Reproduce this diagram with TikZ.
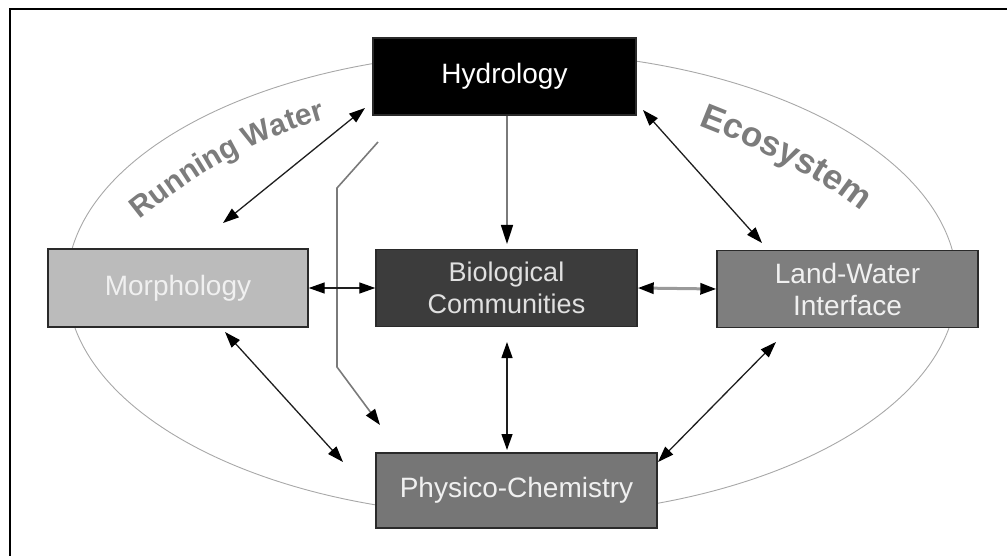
\documentclass[tikz,border=0pt]{standalone}
\usepackage{fontspec}
\setmainfont{Liberation Sans}
\usetikzlibrary{arrows.meta,decorations.text,calc}
\definecolor{boxline}{HTML}{2A2A2A}
\definecolor{ellgray}{HTML}{A8A8A8}
\definecolor{labgray}{HTML}{7C7C7C}
\definecolor{morfill}{HTML}{BBBBBB}
\definecolor{biofill}{HTML}{3C3C3C}
\definecolor{lwifill}{HTML}{7E7E7E}
\definecolor{phyfill}{HTML}{767676}
\definecolor{linegray}{HTML}{7A7A7A}
\definecolor{lightline}{HTML}{9A9A9A}
\definecolor{arrowdark}{HTML}{1E1E1E}
\definecolor{boxtext}{HTML}{F0F0F0}
\begin{document}
\begin{tikzpicture}[x=1pt,y=-1pt,
  box/.style={draw=boxline, line width=1.4pt, inner sep=0pt, align=center,
    text=boxtext, font=\fontsize{28}{32}\selectfont},
  tipA/.tip={Triangle[length=16pt,width=11pt,color=black]},
  dbl/.style={{tipA}-{tipA}, line width=1.3pt, draw=arrowdark},
  sgl/.style={-{tipA}, line width=1.6pt, draw=linegray},
  curved/.style={decorate, decoration={text along path, text align=center, text={#1}}},
]
\useasboundingbox (0,0) rectangle (1007,556);
% frame (top and left edges visible)
\draw[line width=2.2pt] (10,556) -- (10,9) -- (1007,9);
% ecosystem ellipse
\draw[ellgray, line width=0.9pt] (512,284) ellipse [x radius=445pt, y radius=232pt];
% curved labels
\path[curved={|\fontsize{30}{30}\selectfont\bfseries\color{labgray}|Running Water}]
  (134,224) .. controls (200,170) and (260,137) .. (332,117);
\path[curved={|\fontsize{35}{35}\selectfont\bfseries\color{labgray}|Ecosystem}]
  (688,121) .. controls (750,145) and (820,175) .. (870,219);
% boxes
\node[box, fill=black, text=white, minimum width=263pt, minimum height=77pt] (hyd) at (504.5,76.5) {Hydrology};
\node[box, fill=morfill, minimum width=260pt, minimum height=78pt] (mor) at (178,288) {Morphology};
\node[box, fill=biofill, text=white!88!black, minimum width=261pt, minimum height=77pt, font=\fontsize{27}{32}\selectfont] (bio) at (506.5,288) {Biological\\Communities};
\node[box, fill=lwifill, minimum width=261pt, minimum height=77pt] (lwi) at (847.5,289) {Land-Water\\Interface};
\node[box, fill=phyfill, minimum width=281pt, minimum height=75pt] (phy) at (516.5,490.5) {Physico-Chemistry};
% free end points
\coordinate (hm1) at (365,108);
\coordinate (hm2) at (223,223);
\coordinate (hl1) at (643,110);
\coordinate (hl2) at (762,243);
\coordinate (mp1) at (225,332);
\coordinate (mp2) at (343,462);
\coordinate (bp1) at (507,342);
\coordinate (bp2) at (507,450);
\coordinate (lp1) at (776,342);
\coordinate (lp2) at (658,462);
\coordinate (hb2) at (507,244);
\coordinate (bt0) at (378,142);
\coordinate (bt1) at (337,188);
\coordinate (bt2) at (337,367);
\coordinate (bt3) at (380,425);
% connectors
\draw[dbl] (hm1) -- (hm2);
\draw[dbl] (hl1) -- (hl2);
\draw[sgl, {tipA[length=19pt,width=12pt]}-] (hb2) -- (hyd.south -| hb2);
\draw[sgl] (bt0) -- (bt1) -- (bt2) -- (bt3);
\draw[dbl] (mor.east) -- (bio.west);
\draw[dbl, draw=lightline, line width=3pt] (bio.east) -- (lwi.west);
\draw[dbl] (mp1) -- (mp2);
\draw[dbl] (bp1) -- (bp2);
\draw[dbl] (lp1) -- (lp2);
\end{tikzpicture}
\end{document}
